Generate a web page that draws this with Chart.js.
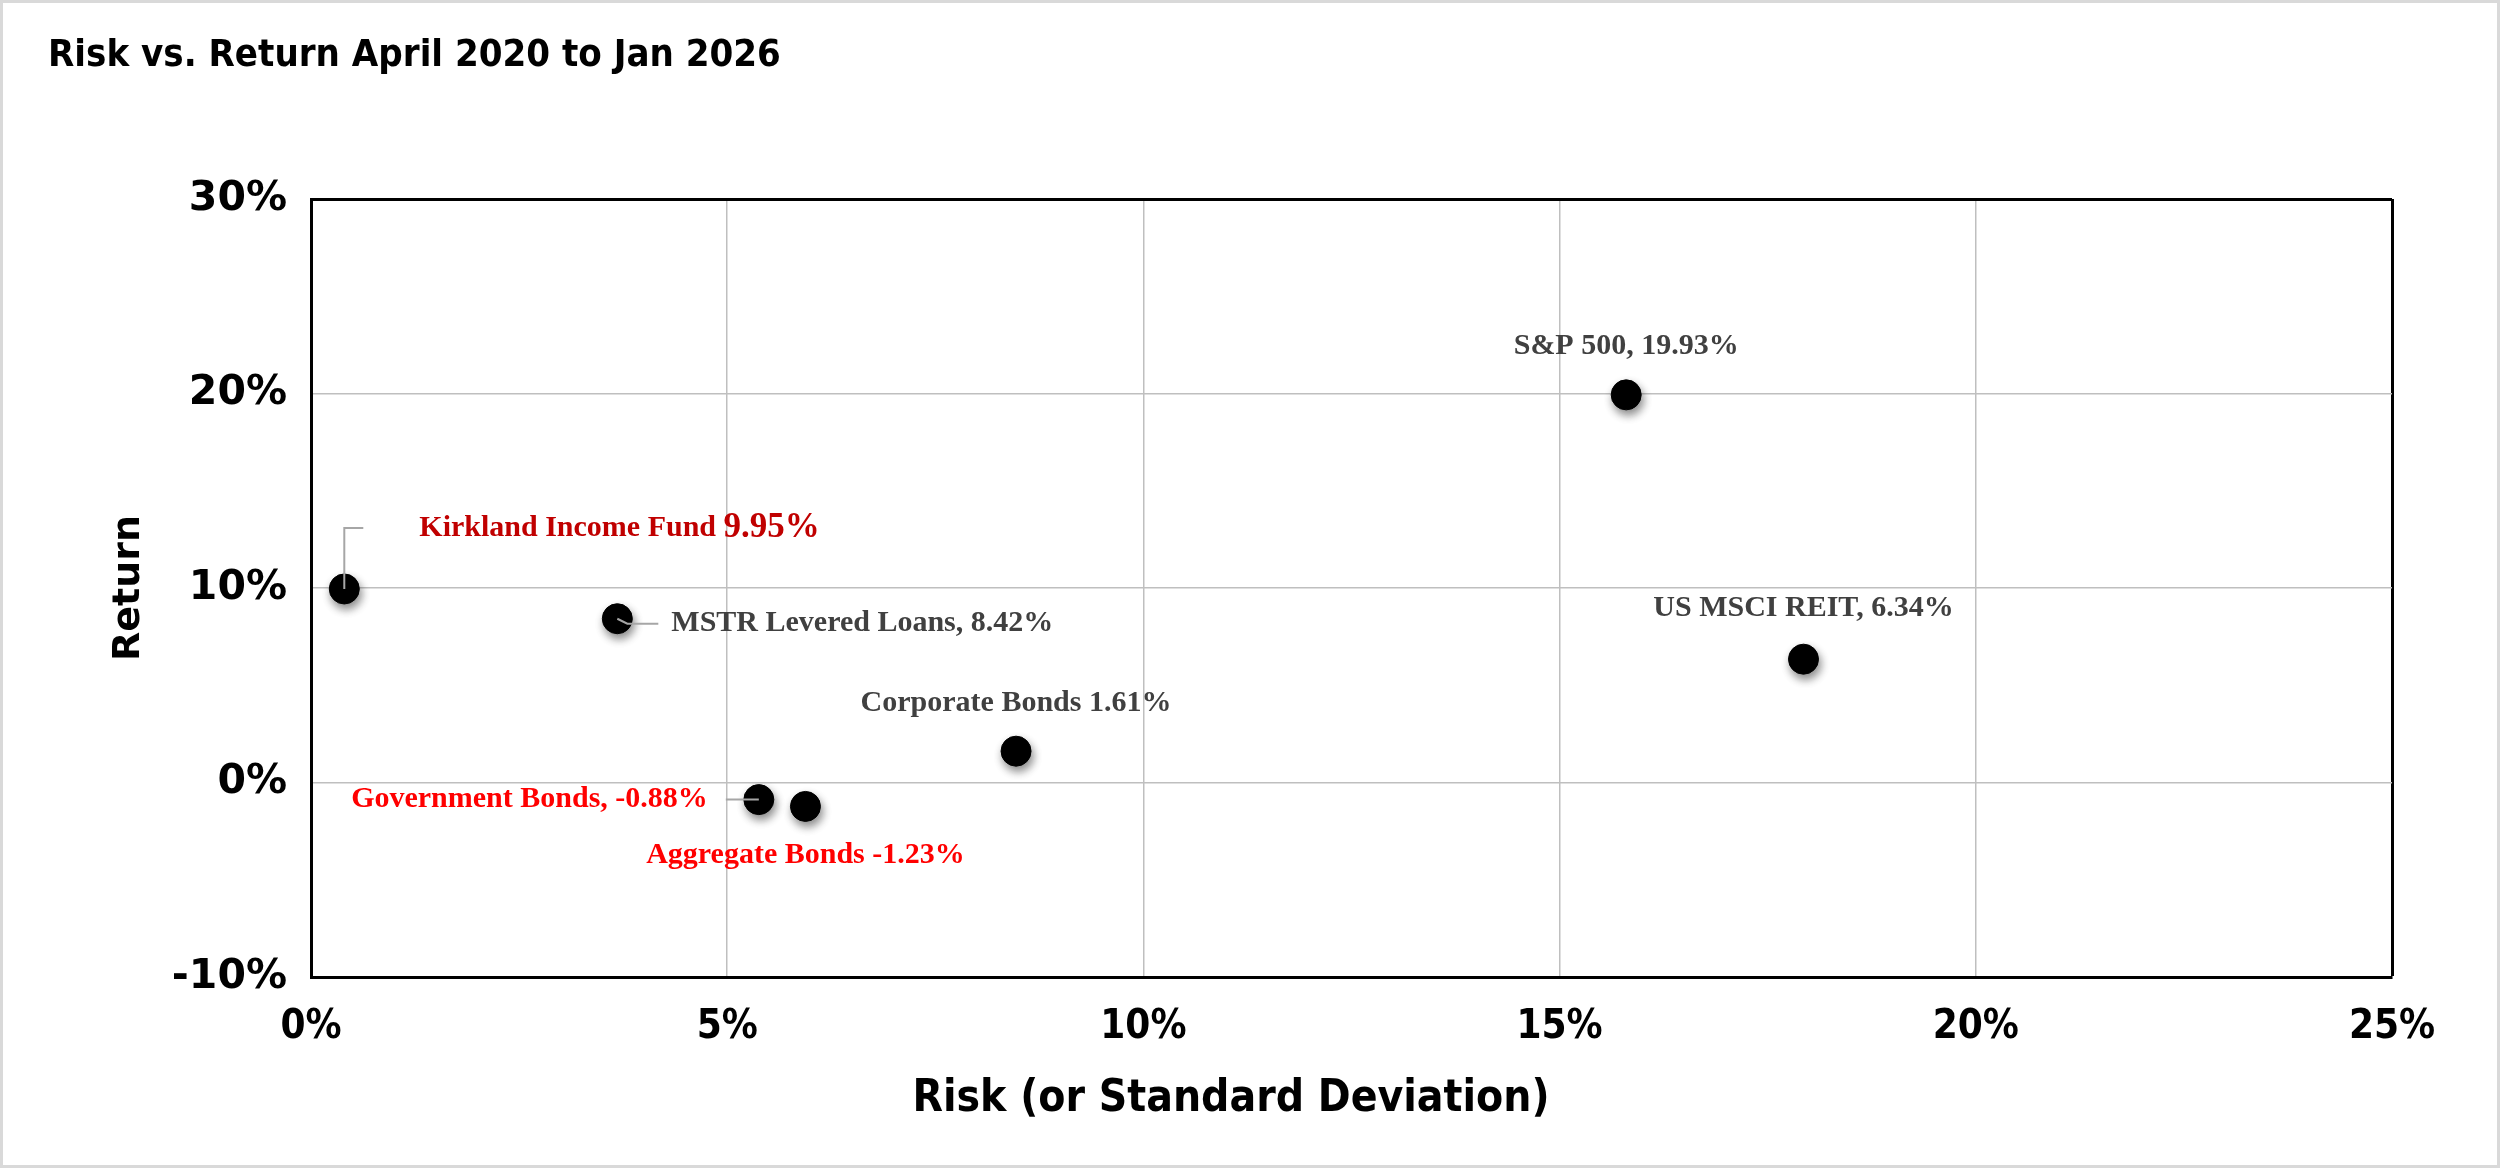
<!DOCTYPE html>
<html>
<head>
<meta charset="utf-8">
<title>Risk vs. Return</title>
<script src="https://cdn.jsdelivr.net/npm/chart.js@4.4.1/dist/chart.umd.min.js"></script>
<style>
    html, body { margin: 0; padding: 0; background: #fff; }
    canvas { display: block; }
</style>
</head>
<body>
<canvas id="graficoRiesgo" width="2500" height="1168"></canvas>
<script>
// Datos
const nombres = ["Kirkland Income Fund", "MSTR Levered Loans,", "Government Bonds,", "Aggregate Bonds", "Corporate Bonds", "S&P 500,", "US MSCI REIT,"];
const riesgo = [0.40, 3.68, 5.38, 5.94, 8.47, 15.80, 17.93];
const retorno = [9.95, 8.42, -0.88, -1.23, 1.61, 19.93, 6.34];
const ticksX = [0, 5, 10, 15, 20, 25];
const ticksY = [-10, 0, 10, 20, 30];

const fuenteAngosta = "'Liberation Sans Narrow', 'DejaVu Sans Condensed', 'Roboto Condensed', 'Open Sans', sans-serif";
const fuenteAncha = "'DejaVu Sans', Verdana, sans-serif";
const fuenteSerif = "'Liberation Serif', 'DejaVu Serif', serif";

// Posición de cada etiqueta respecto a su punto (px)
const estilosEtiqueta = [
    { dx: 75, dy: -61, align: 'left', color: '#C00000', grande: true, guia: [[0, 0], [0, -61], [19, -61]] },
    { dx: 54, dy: 5, align: 'left', color: '#404040', guia: [[0, 0], [10, 5], [41, 5]] },
    { dx: -51, dy: 0, align: 'right', color: '#FF0000', guia: [[-33, 0], [0, 0]] },
    { dx: 0, dy: 49, align: 'center', color: '#FF0000' },
    { dx: 0, dy: -48, align: 'center', color: '#404040' },
    { dx: 0, dy: -49, align: 'center', color: '#404040' },
    { dx: 0, dy: -51, align: 'center', color: '#404040' }
];

const puntos = riesgo.map((r, i) => ({ x: r, y: retorno[i] }));

const etiquetas = {
    id: 'etiquetas',
    beforeDraw(chart) {
        const ctx = chart.ctx;
        ctx.save();
        ctx.fillStyle = '#fff';
        ctx.fillRect(0, 0, chart.width, chart.height);
        ctx.strokeStyle = '#d9d9d9';
        ctx.lineWidth = 3;
        ctx.strokeRect(1.5, 1.5, chart.width - 3, chart.height - 3);
        ctx.restore();
    },
    beforeDatasetsDraw(chart) {
        const ctx = chart.ctx;
        ctx.save();
        ctx.shadowColor = 'rgba(0, 0, 0, 0.45)';
        ctx.shadowBlur = 8;
        ctx.shadowOffsetX = 2;
        ctx.shadowOffsetY = 5;
    },
    afterDatasetsDraw(chart) {
        const ctx = chart.ctx;
        ctx.restore();
        const meta = chart.getDatasetMeta(0);
        ctx.save();
        meta.data.forEach((p, i) => {
            const e = estilosEtiqueta[i];
            if (e.guia) {
                ctx.strokeStyle = '#a6a6a6';
                ctx.lineWidth = 2;
                ctx.beginPath();
                e.guia.forEach(([gx, gy], k) => {
                    if (k === 0) ctx.moveTo(p.x + gx, p.y + gy);
                    else ctx.lineTo(p.x + gx, p.y + gy);
                });
                ctx.stroke();
            }
            const valor = retorno[i].toFixed(2) + '%';
            ctx.fillStyle = e.color;
            ctx.textBaseline = 'middle';
            if (e.grande) {
                ctx.font = "bold 30px " + fuenteSerif;
                const t1 = nombres[i] + ' ';
                const w1 = ctx.measureText(t1).width;
                ctx.textAlign = 'left';
                ctx.fillText(t1, p.x + e.dx, p.y + e.dy);
                ctx.font = "bold 35px " + fuenteSerif;
                ctx.fillText(valor, p.x + e.dx + w1, p.y + e.dy);
            } else {
                ctx.font = "bold 30px " + fuenteSerif;
                ctx.textAlign = e.align;
                ctx.fillText(nombres[i] + ' ' + valor, p.x + e.dx, p.y + e.dy);
            }
        });
        // Título eje X
        ctx.fillStyle = '#000';
        ctx.font = "bold 44px " + fuenteAngosta;
        ctx.textAlign = 'center';
        ctx.textBaseline = 'middle';
        ctx.fillText('Risk (or Standard Deviation)', 1231, 1100);
        ctx.restore();
    }
};

new Chart(document.getElementById("graficoRiesgo"), {
    type: 'scatter',
    data: {
        datasets: [{
            data: puntos,
            backgroundColor: '#000',
            borderColor: '#000',
            pointRadius: 15,
            pointHoverRadius: 15
        }]
    },
    plugins: [etiquetas],
    options: {
        responsive: false,
        animation: false,
        devicePixelRatio: 1,
        layout: { padding: { left: 48, right: 108, top: 0, bottom: 0 } },
        scales: {
            x: {
                type: 'linear',
                min: 0,
                max: 25,
                afterFit: s => { s.height = 191; },
                afterBuildTicks: s => { s.ticks = ticksX.map(v => ({ value: v })); },
                border: { display: true, color: '#000', width: 3 },
                grid: {
                    drawTicks: false,
                    color: c => c.tick && c.tick.value === 25 ? '#000' : '#bfbfbf',
                    lineWidth: c => c.tick && c.tick.value === 25 ? 3 : 1.5
                },
                ticks: {
                    padding: 27,
                    color: '#000',
                    font: { family: fuenteAngosta, size: 40, weight: 'bold' },
                    callback: v => v + '%'
                }
            },
            y: {
                type: 'linear',
                min: -10,
                max: 30,
                afterFit: s => { s.width = 263; },
                afterBuildTicks: s => { s.ticks = ticksY.map(v => ({ value: v })); },
                border: { display: true, color: '#000', width: 3 },
                grid: {
                    drawTicks: false,
                    color: c => c.tick && c.tick.value === 30 ? '#000' : '#bfbfbf',
                    lineWidth: c => c.tick && c.tick.value === 30 ? 3 : 1.5
                },
                ticks: {
                    padding: 24,
                    color: '#000',
                    font: { family: fuenteAncha, size: 41, weight: 'bold' },
                    callback: v => v + '%'
                },
                title: {
                    display: true,
                    text: 'Return',
                    color: '#000',
                    font: { family: fuenteAncha, size: 38, weight: 'bold' },
                    padding: { top: 58, bottom: 0 }
                }
            }
        },
        plugins: {
            legend: { display: false },
            tooltip: { enabled: false },
            title: {
                display: true,
                text: 'Risk vs. Return April 2020 to Jan 2026',
                align: 'start',
                color: '#000',
                font: { family: fuenteAngosta, size: 38, weight: 'bold' },
                padding: { top: 33, bottom: 120.4 }
            }
        }
    }
});
</script>
</body>
</html>
